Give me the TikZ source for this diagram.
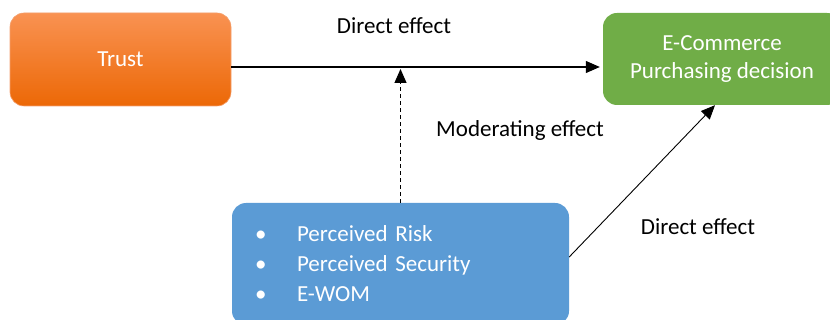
\documentclass[tikz,border=0pt]{standalone}
\usepackage{fontspec}
\setmainfont{Carlito}
\usepackage{tikz}
\usetikzlibrary{arrows.meta,positioning}
\usepackage{color}

\definecolor{trusttop}{RGB}{249,146,82}
\definecolor{trustbot}{RGB}{236,104,6}
\definecolor{trustline}{RGB}{244,160,110}
\definecolor{ecomgreen}{RGB}{112,173,71}
\definecolor{modblue}{RGB}{91,155,213}

\tikzset{
  boxbase/.style={rectangle, rounded corners=14pt, text=white, align=center,
    font=\fontsize{23}{28}\selectfont, inner sep=0pt},
  trustbox/.style={boxbase, draw=trustline, line width=0.6pt,
    top color=trusttop, bottom color=trustbot,
    minimum width=221pt, minimum height=93pt},
  ecombox/.style={boxbase, fill=ecomgreen, minimum width=238pt, minimum height=92pt},
  modbox/.style={boxbase, fill=modblue, minimum width=337pt, minimum height=122pt,
    text width=291pt, align=left, font=\fontsize{23}{30}\selectfont},
  effect/.style={text=black, font=\fontsize{23}{28}\selectfont, inner sep=0pt},
  tip/.style={-{Triangle[length=14pt,width=12pt]}},
}
\newcommand{\modpoint}[1]{\makebox[42pt][l]{\textbullet}#1}

\begin{document}
\begin{tikzpicture}[x=1pt,y=-1pt]
  \clip (0,0) rectangle (830,320);
  \useasboundingbox (0,0) rectangle (830,320);

  % boxes
  \node[trustbox] (trust) at (120.5,59.5) {Trust};
  \node[ecombox] (ecom) at (722,59) {E-Commerce\\Purchasing decision};
  \node[modbox] (mod) at (400.5,264) {%
    \modpoint{Perceived Risk}\\
    \modpoint{Perceived Security}\\
    \modpoint{E-WOM}};

  % connectors
  \coordinate (tr) at ([yshift=-7.5pt]trust.east);
  \draw[tip, line width=1.2pt, shorten >=3pt] (tr) -- (tr -| ecom.west);
  \draw[tip, line width=1.2pt, dash pattern=on 4pt off 3pt, shorten >=2pt]
    (mod.north) -- (mod.north |- tr);
  \draw[tip, line width=0.9pt] ([yshift=7pt]mod.east) -- ([xshift=-7pt]ecom.south);

  % labels
  \node[effect] (direct1) at (394,26) {Direct effect};
  \node[effect] (moder) at (520,130) {Moderating effect};
  \node[effect] (direct2) at (698,227) {Direct effect};
\end{tikzpicture}
\end{document}
